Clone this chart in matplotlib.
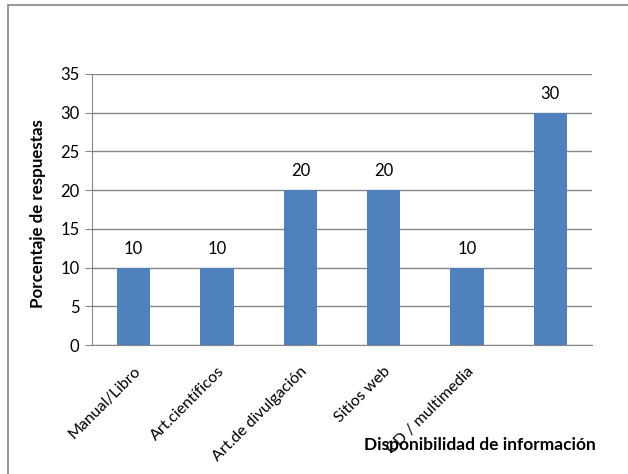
import matplotlib.pyplot as plt
from matplotlib.patches import Rectangle

# data
categorias = ["Manual/Libro", "Art.científicos", "Art.de divulgación",
              "Sitios web", "CD / multimedia", ""]
porcentajes = [10, 10, 20, 20, 10, 30]
yticks = [0, 5, 10, 15, 20, 25, 30, 35]

plt.rcParams['font.family'] = ['Lato', 'DejaVu Sans']
plt.rcParams['font.size'] = 12

fig = plt.figure(figsize=(6.28, 4.74), dpi=100)

# outer chart border (only left/top visible in the crop)
fig.patches.append(Rectangle((8 / 628, -0.1), 1.2, 1 - 5 / 474 + 0.1,
                             transform=fig.transFigure, fill=False,
                             edgecolor="#868686", linewidth=1.2))

ax = fig.add_axes([92 / 628, 1 - 345 / 474, 500 / 628, 271 / 474])
x = list(range(len(porcentajes)))
ax.bar(x, porcentajes, width=0.4, color="#4F81BD", zorder=3)
for xi, v in zip(x, porcentajes):
    ax.text(xi, v + 1.4, str(v), ha="center", va="bottom", fontsize=12)

ax.set_xlim(-0.5, 5.5)
ax.set_ylim(0, 35)
ax.set_yticks(yticks)
ax.yaxis.grid(True, color="#868686", linewidth=1, zorder=0)
for s in ["top", "right"]:
    ax.spines[s].set_visible(False)
ax.spines["left"].set_color("#868686")
ax.spines["bottom"].set_color("#868686")
ax.tick_params(axis="y", length=5, color="#868686", pad=4, labelsize=12)
ax.tick_params(axis="x", length=0, pad=14, labelsize=11.5)
ax.set_xticks(x)
ax.set_xticklabels(categorias, rotation=45, ha="right", rotation_mode="anchor")

fig.text(38 / 628, 1 - 214 / 474, "Porcentaje de respuestas", rotation=90,
         ha="center", va="center", fontweight="bold", fontsize=12.2)
fig.text(596 / 628, 1 - 445 / 474, "Disponibilidad de información",
         ha="right", va="center", fontweight="bold", fontsize=12.5)

fig.savefig("out.png", dpi=100)
